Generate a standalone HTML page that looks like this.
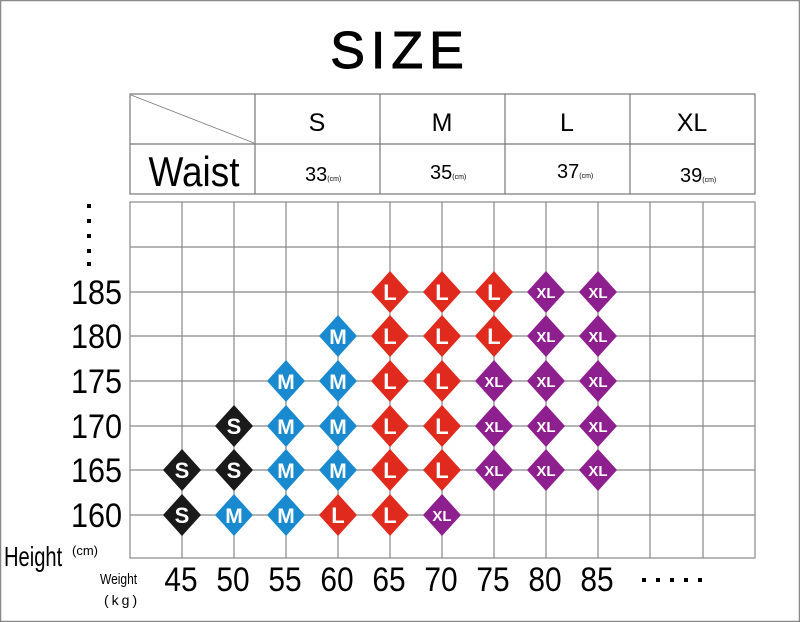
<!DOCTYPE html>
<html><head><style>
html,body{margin:0;padding:0;background:#fff;}
svg{display:block;}
text{font-family:"Liberation Sans",sans-serif;}
</style></head><body>
<svg width="800" height="622" viewBox="0 0 800 622" xmlns="http://www.w3.org/2000/svg">
<rect x="0.5" y="0.5" width="799" height="621" fill="#fff" stroke="#888" stroke-width="1.5"/>
<text x="400" y="68" font-size="52" text-anchor="middle" letter-spacing="6" fill="#000" stroke="#000" stroke-width="1">SIZE</text>
<g stroke="#777" stroke-width="1.2" fill="none">
<rect x="130" y="94" width="625" height="100"/>
<line x1="130" y1="144" x2="755" y2="144"/>
<line x1="255" y1="94" x2="255" y2="194"/>
<line x1="380" y1="94" x2="380" y2="194"/>
<line x1="505" y1="94" x2="505" y2="194"/>
<line x1="630" y1="94" x2="630" y2="194"/>
<line x1="131" y1="95" x2="254" y2="143" stroke-width="0.8"/>
</g>
<g font-size="25" text-anchor="middle" fill="#000">
<text x="317" y="131">S</text><text x="442" y="131">M</text><text x="567" y="131">L</text><text x="692" y="131">XL</text>
</g>
<text x="194" y="186" font-size="42" text-anchor="middle" fill="#000" transform="translate(194 0) scale(0.88 1) translate(-194 0)">Waist</text>
<g font-size="20" fill="#000">
<text x="305" y="181">33<tspan font-size="7">(cm)</tspan></text>
<text x="430" y="179">35<tspan font-size="7">(cm)</tspan></text>
<text x="557" y="178">37<tspan font-size="7">(cm)</tspan></text>
<text x="680" y="182">39<tspan font-size="7">(cm)</tspan></text>
</g>
<g stroke="#888" stroke-width="1.2" fill="none">
<rect x="130" y="202" width="625" height="356"/>
<line x1="182" y1="202" x2="182" y2="558"/><line x1="234" y1="202" x2="234" y2="558"/>
<line x1="286" y1="202" x2="286" y2="558"/><line x1="338" y1="202" x2="338" y2="558"/>
<line x1="390" y1="202" x2="390" y2="558"/><line x1="442" y1="202" x2="442" y2="558"/>
<line x1="494" y1="202" x2="494" y2="558"/><line x1="546" y1="202" x2="546" y2="558"/>
<line x1="598" y1="202" x2="598" y2="558"/><line x1="650" y1="202" x2="650" y2="558"/>
<line x1="703" y1="202" x2="703" y2="558"/>
<line x1="130" y1="247" x2="755" y2="247"/><line x1="130" y1="292" x2="755" y2="292"/>
<line x1="130" y1="336" x2="755" y2="336"/><line x1="130" y1="381" x2="755" y2="381"/>
<line x1="130" y1="426" x2="755" y2="426"/><line x1="130" y1="470" x2="755" y2="470"/>
<line x1="130" y1="515" x2="755" y2="515"/>
</g>
<g fill="#000">
<rect x="87" y="204" width="4" height="4"/><rect x="87" y="219" width="4" height="4"/>
<rect x="87" y="234" width="4" height="4"/><rect x="87" y="249" width="4" height="4"/>
<rect x="87" y="262" width="4" height="4"/>
</g>
<g font-size="34" text-anchor="end" fill="#000" transform="translate(122 0) scale(0.9 1) translate(-122 0)">
<text x="122" y="304">185</text><text x="122" y="348">180</text><text x="122" y="393">175</text>
<text x="122" y="438">170</text><text x="122" y="482">165</text><text x="122" y="527">160</text>
</g>
<text x="4" y="566" font-size="28" fill="#000" transform="translate(4 0) scale(0.72 1) translate(-4 0)">Height</text>
<text x="72" y="555" font-size="13" fill="#000">(cm)</text>
<text x="100" y="584" font-size="15" fill="#000" transform="translate(100 0) scale(0.8 1) translate(-100 0)">Weight</text>
<text x="104" y="605" font-size="14" fill="#000" letter-spacing="3">(kg)</text>
<g font-size="34" text-anchor="middle" fill="#000">
<text x="181" y="591" transform="translate(181 0) scale(0.88 1) translate(-181 0)">45</text>
<text x="233" y="591" transform="translate(233 0) scale(0.88 1) translate(-233 0)">50</text>
<text x="285" y="591" transform="translate(285 0) scale(0.88 1) translate(-285 0)">55</text>
<text x="337" y="591" transform="translate(337 0) scale(0.88 1) translate(-337 0)">60</text>
<text x="389" y="591" transform="translate(389 0) scale(0.88 1) translate(-389 0)">65</text>
<text x="441" y="591" transform="translate(441 0) scale(0.88 1) translate(-441 0)">70</text>
<text x="493" y="591" transform="translate(493 0) scale(0.88 1) translate(-493 0)">75</text>
<text x="545" y="591" transform="translate(545 0) scale(0.88 1) translate(-545 0)">80</text>
<text x="597" y="591" transform="translate(597 0) scale(0.88 1) translate(-597 0)">85</text>
</g>
<g fill="#000">
<rect x="642" y="578" width="4" height="4"/><rect x="656" y="578" width="4" height="4"/>
<rect x="670" y="578" width="4" height="4"/><rect x="684" y="578" width="4" height="4"/>
<rect x="698" y="578" width="4" height="4"/>
</g>
<defs>
<polygon id="d" points="0,-21 19,0 0,21 -19,0"/>
</defs>
<g font-weight="bold" text-anchor="middle" fill="#fff">
<g transform="translate(390 292)"><use href="#d" fill="#e02a1e"/><text y="8" font-size="22">L</text></g>
<g transform="translate(442 292)"><use href="#d" fill="#e02a1e"/><text y="8" font-size="22">L</text></g>
<g transform="translate(494 292)"><use href="#d" fill="#e02a1e"/><text y="8" font-size="22">L</text></g>
<g transform="translate(546 292)"><use href="#d" fill="#8e1f8e"/><text y="6" font-size="15">XL</text></g>
<g transform="translate(598 292)"><use href="#d" fill="#8e1f8e"/><text y="6" font-size="15">XL</text></g>
<g transform="translate(338 336)"><use href="#d" fill="#1a8ad0"/><text y="8" font-size="21">M</text></g>
<g transform="translate(390 336)"><use href="#d" fill="#e02a1e"/><text y="8" font-size="22">L</text></g>
<g transform="translate(442 336)"><use href="#d" fill="#e02a1e"/><text y="8" font-size="22">L</text></g>
<g transform="translate(494 336)"><use href="#d" fill="#e02a1e"/><text y="8" font-size="22">L</text></g>
<g transform="translate(546 336)"><use href="#d" fill="#8e1f8e"/><text y="6" font-size="15">XL</text></g>
<g transform="translate(598 336)"><use href="#d" fill="#8e1f8e"/><text y="6" font-size="15">XL</text></g>
<g transform="translate(286 381)"><use href="#d" fill="#1a8ad0"/><text y="8" font-size="21">M</text></g>
<g transform="translate(338 381)"><use href="#d" fill="#1a8ad0"/><text y="8" font-size="21">M</text></g>
<g transform="translate(390 381)"><use href="#d" fill="#e02a1e"/><text y="8" font-size="22">L</text></g>
<g transform="translate(442 381)"><use href="#d" fill="#e02a1e"/><text y="8" font-size="22">L</text></g>
<g transform="translate(494 381)"><use href="#d" fill="#8e1f8e"/><text y="6" font-size="15">XL</text></g>
<g transform="translate(546 381)"><use href="#d" fill="#8e1f8e"/><text y="6" font-size="15">XL</text></g>
<g transform="translate(598 381)"><use href="#d" fill="#8e1f8e"/><text y="6" font-size="15">XL</text></g>
<g transform="translate(234 426)"><use href="#d" fill="#1a1a1a"/><text y="8" font-size="22">S</text></g>
<g transform="translate(286 426)"><use href="#d" fill="#1a8ad0"/><text y="8" font-size="21">M</text></g>
<g transform="translate(338 426)"><use href="#d" fill="#1a8ad0"/><text y="8" font-size="21">M</text></g>
<g transform="translate(390 426)"><use href="#d" fill="#e02a1e"/><text y="8" font-size="22">L</text></g>
<g transform="translate(442 426)"><use href="#d" fill="#e02a1e"/><text y="8" font-size="22">L</text></g>
<g transform="translate(494 426)"><use href="#d" fill="#8e1f8e"/><text y="6" font-size="15">XL</text></g>
<g transform="translate(546 426)"><use href="#d" fill="#8e1f8e"/><text y="6" font-size="15">XL</text></g>
<g transform="translate(598 426)"><use href="#d" fill="#8e1f8e"/><text y="6" font-size="15">XL</text></g>
<g transform="translate(182 470)"><use href="#d" fill="#1a1a1a"/><text y="8" font-size="22">S</text></g>
<g transform="translate(234 470)"><use href="#d" fill="#1a1a1a"/><text y="8" font-size="22">S</text></g>
<g transform="translate(286 470)"><use href="#d" fill="#1a8ad0"/><text y="8" font-size="21">M</text></g>
<g transform="translate(338 470)"><use href="#d" fill="#1a8ad0"/><text y="8" font-size="21">M</text></g>
<g transform="translate(390 470)"><use href="#d" fill="#e02a1e"/><text y="8" font-size="22">L</text></g>
<g transform="translate(442 470)"><use href="#d" fill="#e02a1e"/><text y="8" font-size="22">L</text></g>
<g transform="translate(494 470)"><use href="#d" fill="#8e1f8e"/><text y="6" font-size="15">XL</text></g>
<g transform="translate(546 470)"><use href="#d" fill="#8e1f8e"/><text y="6" font-size="15">XL</text></g>
<g transform="translate(598 470)"><use href="#d" fill="#8e1f8e"/><text y="6" font-size="15">XL</text></g>
<g transform="translate(182 515)"><use href="#d" fill="#1a1a1a"/><text y="8" font-size="22">S</text></g>
<g transform="translate(234 515)"><use href="#d" fill="#1a8ad0"/><text y="8" font-size="21">M</text></g>
<g transform="translate(286 515)"><use href="#d" fill="#1a8ad0"/><text y="8" font-size="21">M</text></g>
<g transform="translate(338 515)"><use href="#d" fill="#e02a1e"/><text y="8" font-size="22">L</text></g>
<g transform="translate(390 515)"><use href="#d" fill="#e02a1e"/><text y="8" font-size="22">L</text></g>
<g transform="translate(442 515)"><use href="#d" fill="#8e1f8e"/><text y="6" font-size="15">XL</text></g>
</g>
</svg>
</body></html>
